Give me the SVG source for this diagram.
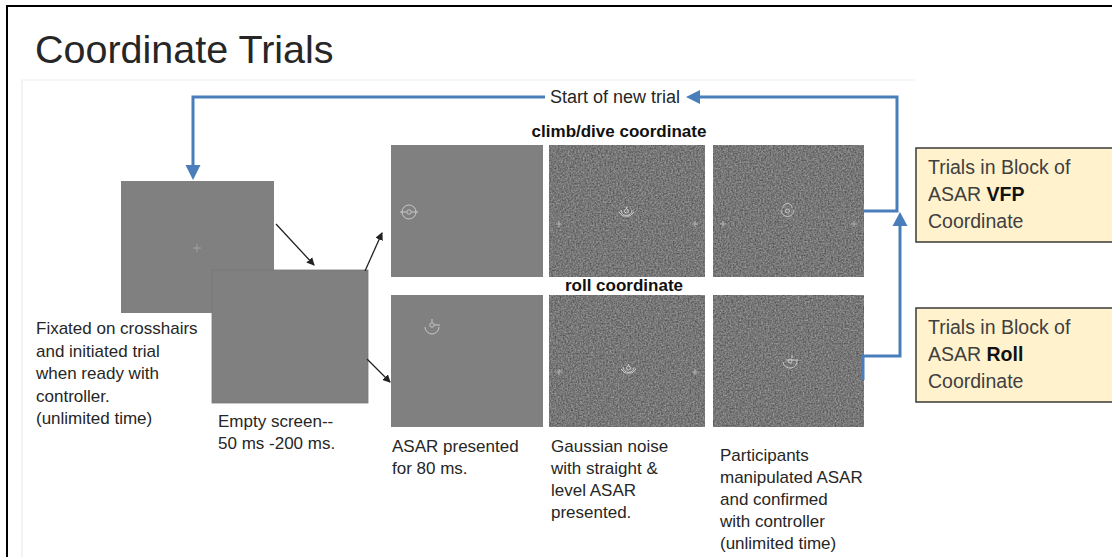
<svg xmlns="http://www.w3.org/2000/svg" width="1112" height="557" viewBox="0 0 1112 557">
<style>
.t{font-family:"Liberation Sans",Arial,sans-serif;fill:#262626}
.lbl{font-size:17px}
.hd{font-size:17px;font-weight:bold;fill:#111}
.box{fill:#fff2cc;stroke:#3a3a3a;stroke-width:1.5}
.bt{font-family:"Liberation Sans",Arial,sans-serif;font-size:19.5px;fill:#404040}
.scr{fill:#808080}
.nz{fill:#808080;filter:url(#noise)}
.ic{fill:none;stroke:#c8c8c8;stroke-width:1}
.blue{fill:none;stroke:#4a7ebb;stroke-width:3}
.bh{fill:#4a7ebb}
.blk{fill:none;stroke:#222;stroke-width:1.3;marker-end:url(#ah)}
</style>
<defs>
<filter id="noise" x="0" y="0" width="100%" height="100%" color-interpolation-filters="sRGB">
<feTurbulence type="fractalNoise" baseFrequency="0.6" numOctaves="2" seed="4" result="t"/>
<feColorMatrix in="t" type="matrix" values="0.42 0 0 0 0.255  0.42 0 0 0 0.255  0.42 0 0 0 0.255  0 0 0 0 1"/>
<feComposite operator="in" in2="SourceGraphic"/>
</filter>
<marker id="ah" markerWidth="8" markerHeight="8" refX="7" refY="4" orient="auto" markerUnits="userSpaceOnUse">
<path d="M0,0 L8,4 L0,8 Z" fill="#222"/>
</marker>
</defs>
<rect width="1112" height="557" fill="#fff"/>
<path d="M7,557 V6 H1112" fill="none" stroke="#000" stroke-width="2"/>
<path d="M22,557 V80 H915" fill="none" stroke="#ececec" stroke-width="1.2"/>
<text class="t" x="35" y="63" font-size="39.5" fill="#262626">Coordinate Trials</text>

<g id="fixation">
<rect class="scr" x="121" y="181" width="153" height="132"/>
<path d="M193,248 H201 M197,244 V252" stroke="#aaa" stroke-width="0.8"/>
<text class="t lbl" x="36"><tspan x="36" y="334">Fixated on crosshairs</tspan><tspan x="36" y="356.5">and initiated trial</tspan><tspan x="36" y="379">when ready with</tspan><tspan x="36" y="401.5">controller.</tspan><tspan x="36" y="424">(unlimited time)</tspan></text>
</g>

<g id="empty">
<rect class="scr" x="212" y="270" width="156" height="133" stroke="#777" stroke-width="0.8"/>
<text class="t lbl"><tspan x="218" y="427">Empty screen--</tspan><tspan x="218" y="449">50 ms -200 ms.</tspan></text>
</g>

<g id="asar">
<rect class="scr" x="391" y="145" width="152" height="132"/>
<g class="ic"><circle cx="409" cy="212" r="7"/><circle cx="409" cy="212" r="2.2"/><path d="M400,212 H406.5 M411.5,212 H418"/></g>
<rect class="scr" x="391" y="295" width="152" height="132"/>
<g class="ic"><path d="M425,327 A7,7 0 0 0 439,327"/><circle cx="432" cy="325" r="2.2"/><path d="M432,319 V322 M434.5,325 H440"/></g>
<text class="t lbl"><tspan x="392" y="452">ASAR presented</tspan><tspan x="392" y="474">for 80 ms.</tspan></text>
</g>

<g id="noise-level">
<rect class="nz" x="549" y="145" width="156" height="132"/>
<g class="ic"><path d="M619,212 L623,216 H630 L634,212 M621,210 A5.5,5.5 0 0 0 632,210 M626.5,207 V209"/><circle cx="626.5" cy="211" r="2"/></g>
<path d="M556,224 h6 M698,224 h-6 M559,221 v6 M695,221 v6" stroke="#c0c0c0" stroke-width="0.8"/>
<rect class="nz" x="549" y="295" width="156" height="132"/>
<g class="ic"><path d="M621,369 L625,373 H632 L636,369 M623,367 A5.5,5.5 0 0 0 634,367 M628.5,364 V366"/><circle cx="628.5" cy="368" r="2"/></g>
<path d="M556,372 h6 M698,372 h-6 M559,369 v6 M695,369 v6" stroke="#c0c0c0" stroke-width="0.8"/>
<text class="t lbl"><tspan x="551" y="452">Gaussian noise</tspan><tspan x="551" y="474">with straight &amp;</tspan><tspan x="551" y="496">level ASAR</tspan><tspan x="551" y="518">presented.</tspan></text>
</g>

<g id="manipulate">
<rect class="nz" x="713" y="145" width="151" height="132"/>
<g class="ic"><path d="M781,210 A6.5,6.5 0 0 0 794,210 M783,208 A4.5,4.5 0 0 1 792,208"/><circle cx="787.5" cy="211" r="2"/></g>
<path d="M720,224 h6 M857,224 h-6 M723,221 v6 M854,221 v6" stroke="#c0c0c0" stroke-width="0.8"/>
<rect class="nz" x="713" y="295" width="151" height="132"/>
<g class="ic"><path d="M783,362 A7,7 0 0 0 797,360 M786,360 H798"/><circle cx="790" cy="361" r="2"/><path d="M792,355 V358"/></g>
<text class="t lbl"><tspan x="720" y="461">Participants</tspan><tspan x="720" y="483">manipulated ASAR</tspan><tspan x="720" y="505">and confirmed</tspan><tspan x="720" y="527">with controller</tspan><tspan x="720" y="549">(unlimited time)</tspan></text>
</g>

<g id="headers">
<text class="t hd" x="619" y="137" text-anchor="middle">climb/dive coordinate</text>
<text class="t hd" x="624" y="291" text-anchor="middle">roll coordinate</text>
</g>

<g id="block-vfp">
<rect class="box" x="916" y="148" width="210" height="94"/>
<text class="bt"><tspan x="928" y="174">Trials in Block of</tspan><tspan x="928" y="201">ASAR <tspan font-weight="bold" fill="#111">VFP</tspan></tspan><tspan x="928" y="228">Coordinate</tspan></text>
</g>

<g id="block-roll">
<rect class="box" x="916" y="308" width="210" height="94"/>
<text class="bt"><tspan x="928" y="334">Trials in Block of</tspan><tspan x="928" y="361">ASAR <tspan font-weight="bold" fill="#111">Roll</tspan></tspan><tspan x="928" y="388">Coordinate</tspan></text>
</g>

<g id="connectors">
<path class="blue" d="M545,97 H193 V167"/>
<polygon class="bh" points="185.5,165 200.5,165 193,180"/>
<text class="t" x="550" y="103" font-size="18" fill="#262626">Start of new trial</text>
<path class="blue" d="M864,211 H897 V97 H698"/>
<polygon class="bh" points="700,90 700,104 686,97"/>
<path class="blue" d="M863,380 V356 H900 V224"/>
<polygon class="bh" points="892.5,226 907.5,226 900,212"/>
<path class="blk" d="M276,224 L314,265"/>
<path class="blk" d="M365,271 L382,233"/>
<path class="blk" d="M367,359 L390,382"/>
</g>
</svg>
